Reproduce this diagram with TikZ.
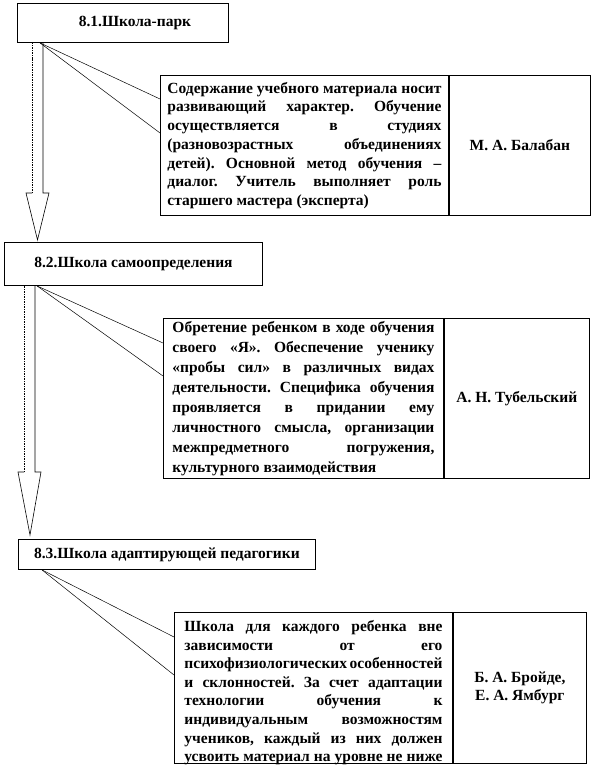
\documentclass[tikz,border=0pt]{standalone}
\usepackage{fontspec}
\setmainfont{Liberation Serif}
\usetikzlibrary{calc}
\frenchspacing

\tikzset{
  titlebox/.style={draw, line width=0.9pt, anchor=north west, inner sep=0pt,
    font=\bfseries\fontsize{15.5bp}{18bp}\selectfont},
  descbox/.style={draw, line width=0.9pt, anchor=north west, inner ysep=0bp},
  authbox/.style={draw, line width=0.9pt, anchor=north west, align=center, inner sep=0pt,
    font=\bfseries\fontsize{15.5bp}{18.7bp}\selectfont},
  callout/.style={line width=0.5pt},
  arrowedge/.style={line width=0.6pt},
}
\newcommand{\jl}[1]{\makebox[\hsize][s]{#1}\\}
% block arrow: top centre, tip, head length
\newcommand{\blockarrow}[3]{%
  \draw[arrowedge] let \p1=(#1), \p2=(#2) in
    (\x1+5.5bp,\y1) -- (\x1+5.5bp,\y2+#3) -- (\x1+11.5bp,\y2+#3) -- (\x2,\y2)
    -- (\x1-11.5bp,\y2+#3) -- (\x1-5.5bp,\y2+#3);
  \draw[arrowedge, dash pattern=on 1.5pt off 1pt] let \p1=(#1), \p2=(#2) in
    (\x1-5.5bp,\y2+#3) -- (\x1-5.5bp,\y1);
}

\begin{document}
\begin{tikzpicture}[x=1bp, y=-1bp]
  \useasboundingbox (0,0) rectangle (591,766);

  % headings
  \node[titlebox, minimum width=211bp, minimum height=39bp] (title1) at (17,3)
    {\hspace*{24bp}8.1.Школа-парк};
  \node[titlebox, minimum width=258bp, minimum height=43bp] (title2) at (4,242)
    {8.2.Школа самоопределения};
  \node[titlebox, minimum width=297bp, minimum height=30bp] (title3) at (18,539)
    {8.3.Школа адаптирующей педагогики};

  % first table
  \node[descbox, inner xsep=7bp, font=\bfseries\fontsize{15.5bp}{18.7bp}\selectfont]
    (desc1) at (160,75)
    {\parbox[c][140bp][c]{274bp}{%
     \jl{Содержание учебного материала носит}
     \jl{развивающий характер. Обучение}
     \jl{осуществляется в студиях}
     \jl{(разновозрастных объединениях}
     \jl{детей). Основной метод обучения –}
     \jl{диалог. Учитель выполняет роль}
     старшего мастера (эксперта)}};
  \node[authbox, minimum width=141bp, minimum height=140bp] (auth1) at (desc1.north east)
    {М. А. Балабан};

  % second table
  \node[descbox, inner xsep=9bp, font=\bfseries\fontsize{15.5bp}{20bp}\selectfont]
    (desc2) at (163,318)
    {\parbox[c][160bp][c]{262bp}{%
     \jl{Обретение ребенком в ходе обучения}
     \jl{своего «Я». Обеспечение ученику}
     \jl{«пробы сил» в различных видах}
     \jl{деятельности. Специфика обучения}
     \jl{проявляется в придании ему}
     \jl{личностного смысла, организации}
     \jl{межпредметного погружения,}
     культурного взаимодействия}};
  \node[authbox, minimum width=145bp, minimum height=160bp] (auth2) at (desc2.north east)
    {А. Н. Тубельский};

  % third table
  \node[descbox, inner xsep=10bp, font=\bfseries\fontsize{15.5bp}{18.6bp}\selectfont]
    (desc3) at (174,612)
    {\parbox[t][151bp][t]{258bp}{\vspace*{8bp}%
     \jl{Школа для каждого ребенка вне}
     \jl{зависимости от его}
     \jl{психофизиологических особенностей}
     \jl{и склонностей. За счет адаптации}
     \jl{технологии обучения к}
     \jl{индивидуальным возможностям}
     \jl{учеников, каждый из них должен}
     \jl{усвоить материал на уровне не ниже}}};
  \node[authbox, minimum width=133bp, minimum height=151bp] (auth3) at (desc3.north east)
    {Б. А. Бройде,\\ Е. А. Ямбург};

  % callouts
  \draw[callout] ($(title1.south west)+(23,0)$) coordinate (c1) -- ($(desc1.north west)+(0,24)$);
  \draw[callout] (c1) -- ($(desc1.north west)+(0,58)$);
  \draw[callout] ($(title2.south west)+(33,0)$) coordinate (c2) -- ($(desc2.north west)+(0,25)$);
  \draw[callout] (c2) -- ($(desc2.north west)+(0,58)$);
  \draw[callout] ($(title3.south west)+(24,0)$) coordinate (c3) -- ($(desc3.north west)+(0,25)$);
  \draw[callout] (c3) -- ($(desc3.north west)+(0,63)$);

  % arrows
  \blockarrow{$(title1.south west)+(20.5,0)$}{$(title2.north west)+(33.5,-2)$}{47bp}
  \blockarrow{$(title2.south west)+(25.5,0)$}{$(title3.north west)+(12,-4)$}{63bp}
\end{tikzpicture}
\end{document}
